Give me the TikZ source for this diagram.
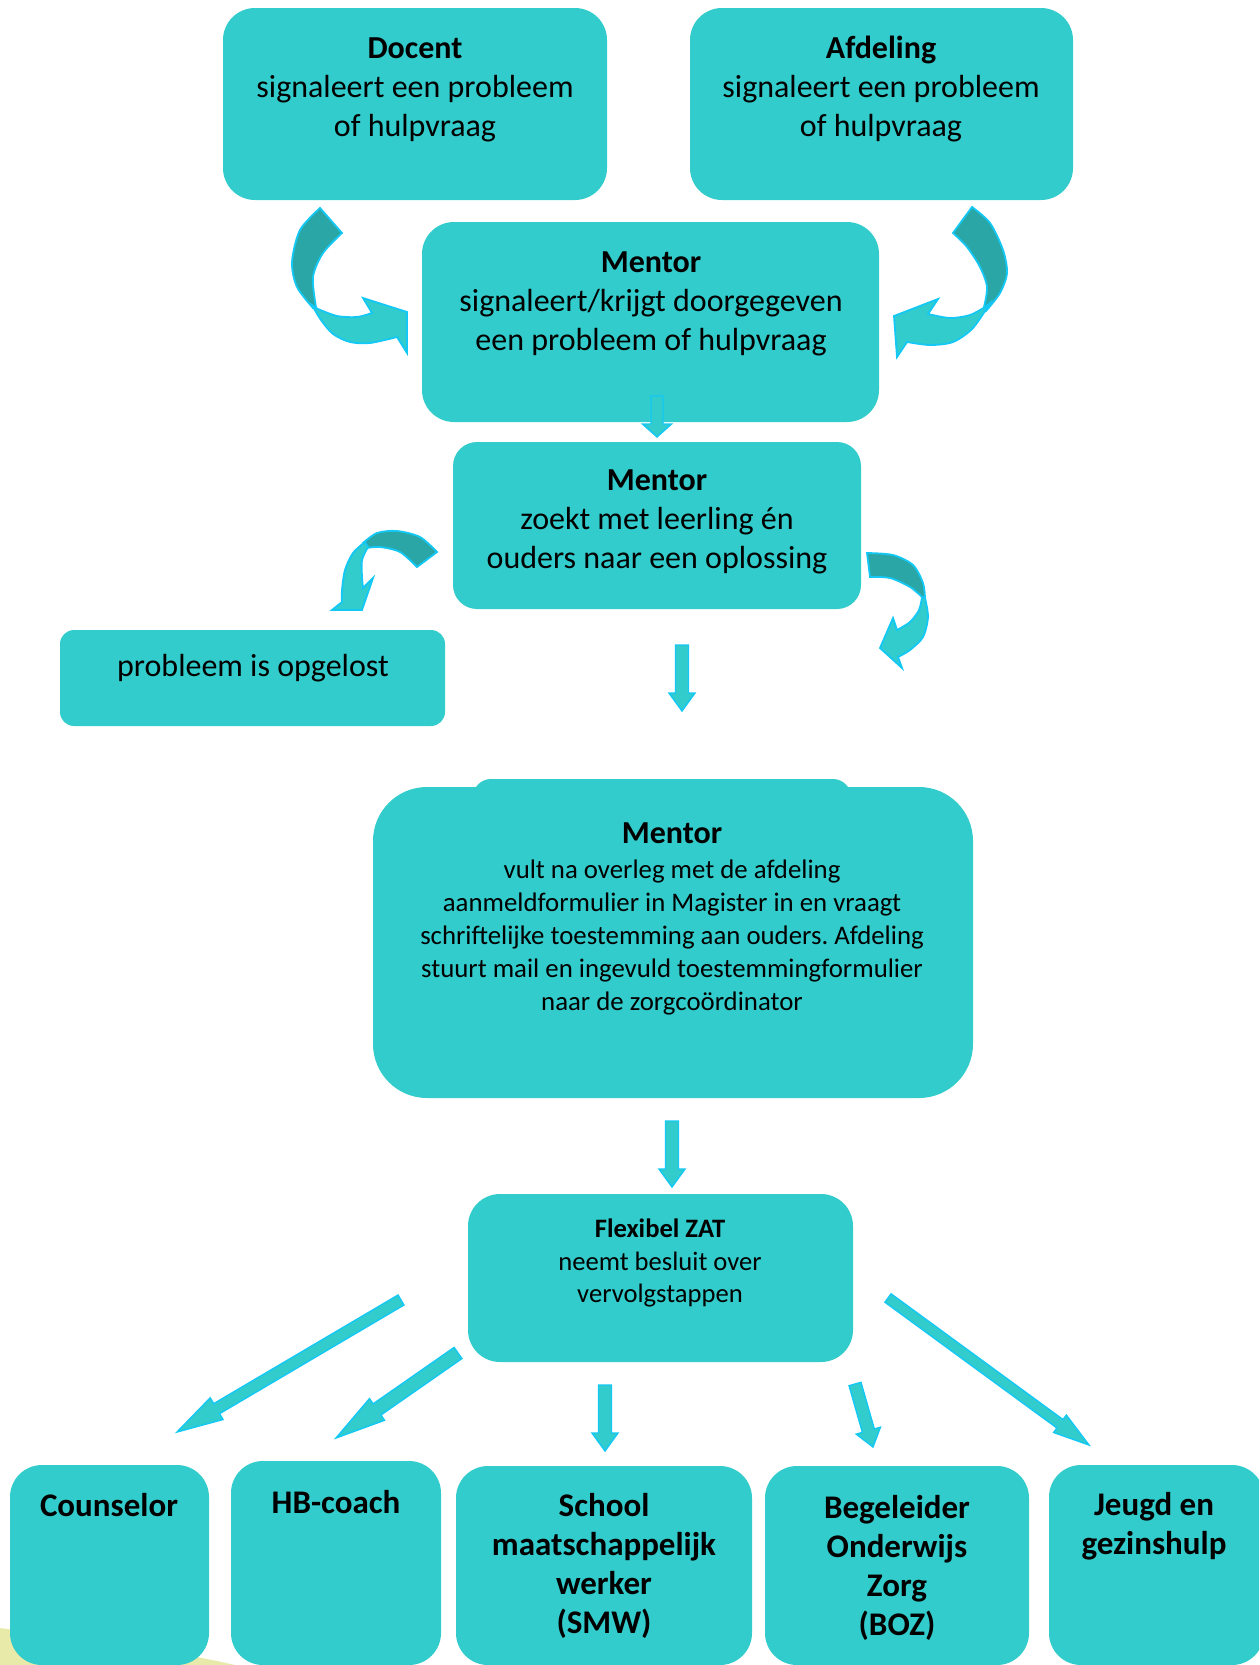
\documentclass[tikz,border=0pt]{standalone}
\usepackage{fontspec}
\setmainfont{Carlito}
\usetikzlibrary{calc,fit}
\frenchspacing
\definecolor{boxfill}{RGB}{51,204,204}
\definecolor{bendshade}{RGB}{43,166,166}
\definecolor{arrowedge}{RGB}{20,200,245}
\definecolor{blob}{RGB}{232,234,170}
\tikzset{
	box/.style = {fill=boxfill, inner sep=0pt, rounded corners=16pt},% blok
	boxtext/.style = {align=center, inner sep=0pt,
		font=\fontsize{16}{19.5}\selectfont},
	smalltext/.style = {align=center, inner sep=0pt,
		font=\fontsize{13.4}{16.5}\selectfont},
	zattext/.style = {align=center, inner sep=0pt,
		font=\fontsize{13.3}{16.2}\selectfont},
	foottext/.style = {align=center, inner sep=0pt,
		font=\bfseries\fontsize{16.5}{19.5}\selectfont},
	blockarrow/.style = {fill=boxfill, draw=arrowedge, line width=0.7pt},% rechte pijl
	bendfront/.style = {fill=boxfill, draw=arrowedge, line width=0.9pt},% gebogen pijl, voorkant
	bendback/.style = {fill=bendshade, draw=arrowedge, line width=0.9pt}% gebogen pijl, achterkant
}
% pijl van #1 naar #2: halve schachtbreedte #3, halve kopbreedte #4, koplengte #5
\newcommand{\flowarrow}[5]{%
	\coordinate (kopvoet) at ($(#2)!#5!(#1)$);
	\filldraw[blockarrow] ($(#1)!#3!90:(#2)$) -- ($(kopvoet)!#3!90:(#2)$)
		-- ($(kopvoet)!#4!90:(#2)$) -- (#2) -- ($(kopvoet)!#4!-90:(#2)$)
		-- ($(kopvoet)!#3!-90:(#2)$) -- ($(#1)!#3!-90:(#2)$) -- cycle;}

\begin{document}
\begin{tikzpicture}[x=0.5pt,y=-0.5pt]
	\useasboundingbox (0,0) rectangle (1259,1665);
	\clip (0,0) rectangle (1259,1665);
	\fill[blob] (0,1628) .. controls (90,1640) and (180,1652) .. (235,1665) -- (0,1665) -- cycle;

	% blokken
	\node[box, fit={(223,8) (607,200)}] (docent) {};
	\node[box, fit={(690,8) (1073,200)}] (afdeling) {};
	\node[box, fit={(422,222) (879,422)}] (mentor1) {};
	\node[box, rounded corners=12pt, fit={(453,442) (861,609)}] (mentor2) {};
	\node[box, rounded corners=7pt, fit={(60,630) (445,726)}] (opgelost) {};
	\node[box, rounded corners=9pt, fit={(473,779) (851,830)}] (mentortab) {};
	\node[box, rounded corners=27pt, fit={(373,787) (973,1098)}] (mentor3) {};
	\node[box, fit={(468,1194) (853,1362)}] (zat) {};
	\node[box, fit={(10,1465) (209,1665)}] (counselor) {};
	\node[box, fit={(231,1461) (441,1665)}] (hbcoach) {};
	\node[box, fit={(456,1466) (752,1665)}] (smw) {};
	\node[box, fit={(765,1466) (1029,1665)}] (boz) {};
	\node[box, fit={(1049,1465) (1264,1665)}] (jeugd) {};

	% teksten
	\node[boxtext] (docenttekst) at (415,90) {\textbf{Docent}\\ signaleert een probleem\\ of hulpvraag};
	\node[boxtext] (afdelingtekst) at (881,89) {\textbf{Afdeling}\\ signaleert een probleem\\ of hulpvraag};
	\node[boxtext] (mentor1tekst) at (651,304) {\textbf{Mentor}\\ signaleert/krijgt doorgegeven\\ een probleem of hulpvraag};
	\node[boxtext] (mentor2tekst) at (657,522) {\textbf{Mentor}\\ zoekt met leerling én\\ ouders naar een oplossing};
	\node[boxtext] (opgelosttekst) at (253,668) {probleem is opgelost};
	\node[smalltext] (mentor3tekst) at (672,919) {{\bfseries\fontsize{16}{19.5}\selectfont Mentor}\\[1pt]
		vult na overleg met de afdeling\\ aanmeldformulier in Magister in en vraagt\\
		schriftelijke toestemming aan ouders. Afdeling\\ stuurt mail en ingevuld toestemmingformulier\\
		naar de zorgcoördinator};
	\node[zattext] (zattekst) at (660,1263) {\textbf{Flexibel ZAT}\\ neemt besluit over\\ vervolgstappen};
	\node[foottext] (counselortekst) at (109,1505) {Counselor};
	\node[foottext] (hbcoachtekst) at (336,1502) {HB-coach};
	\node[foottext] (smwtekst) at (604,1566) {School\\ maatschappelijk\\ werker\\ (SMW)};
	\node[foottext] (boztekst) at (897,1568) {Begeleider\\ Onderwijs\\ Zorg\\ (BOZ)};
	\node[foottext] (jeugdtekst) at (1154,1526) {Jeugd en\\ gezinshulp};

	% rechte pijlen
	\coordinate (m1uit) at (657,396);   \coordinate (m2in) at (657,437);
	\coordinate (m2uit) at (682,645);   \coordinate (m3in) at (682,711);
	\coordinate (m3uit) at (672,1121);  \coordinate (zatin) at (672,1187);
	\coordinate (zatA) at (401,1300);   \coordinate (counselorin) at (177,1432);
	\coordinate (zatB) at (458,1353);   \coordinate (hbcoachin) at (336,1438);
	\coordinate (zatC) at (605,1385);   \coordinate (smwin) at (605,1451);
	\coordinate (zatD) at (855,1384);   \coordinate (bozin) at (873,1447);
	\coordinate (zatE) at (888,1298);   \coordinate (jeugdin) at (1089,1445);
	\flowarrow{m1uit}{m2in}{3pt}{7.25pt}{6.5pt}
	\flowarrow{m2uit}{m3in}{3.25pt}{6.5pt}{9pt}
	\flowarrow{m3uit}{zatin}{3.25pt}{6.5pt}{9pt}
	\flowarrow{zatA}{counselorin}{2.9pt}{6.3pt}{23pt}
	\flowarrow{zatB}{hbcoachin}{3.4pt}{6.6pt}{25pt}
	\flowarrow{zatC}{smwin}{3.25pt}{6.5pt}{9pt}
	\flowarrow{zatD}{bozin}{3.1pt}{6.3pt}{8.5pt}
	\flowarrow{zatE}{jeugdin}{2.6pt}{5.4pt}{18pt}

	% gebogen pijlen
	% docent -> mentor
	\filldraw[bendback] plot[smooth] coordinates {(320,208) (300,230) (292,262) (297,287) (313,308)}
		-- plot[smooth] coordinates {(316,307) (313,277) (323,253) (342,233)} -- cycle;
	\filldraw[bendfront] plot[smooth] coordinates {(312,305) (321,320) (333,334) (350,342) (370,343) (397,337)}
		-- (407,353) -- (407,312) -- (363,298)
		-- plot[smooth] coordinates {(372,313) (357,317) (337,316) (318,309)} -- cycle;
	% afdeling -> mentor
	\filldraw[bendback] plot[smooth] coordinates {(972,207) (990,223) (1003,250) (1007,273) (1000,293) (986,311)}
		-- plot[smooth] coordinates {(984,307) (987,287) (980,267) (967,247) (953,233)} -- cycle;
	\filldraw[bendfront] plot[smooth] coordinates {(990,303) (973,328) (953,342) (930,345) (907,342)}
		-- (897,357) -- (894,316) -- (938,299)
		-- plot[smooth] coordinates {(928,314) (950,318) (970,315) (985,307)} -- cycle;
	% mentor -> opgelost
	\filldraw[bendback] plot[smooth] coordinates {(437,552) (420,537) (397,531) (377,533) (363,543)}
		-- plot[smooth] coordinates {(367,548) (380,547) (400,552) (417,567)} -- cycle;
	\filldraw[bendfront] plot[smooth] coordinates {(365,542) (353,553) (345,570) (342,590) (342,602)}
		-- (332,610) -- (362,610) -- (373,578)
		-- plot[smooth] coordinates {(363,588) (362,577) (362,560) (368,547)} -- cycle;
	% mentor -> verder
	\filldraw[bendback] plot[smooth] coordinates {(867,553) (893,555) (913,565) (923,583) (925,598)}
		-- plot[smooth] coordinates {(922,597) (910,587) (890,578) (870,577)} -- cycle;
	\filldraw[bendfront] plot[smooth] coordinates {(925,598) (928,617) (923,637) (910,650) (898,657)}
		-- (902,668) -- (880,648) -- (893,618)
		-- plot[smooth] coordinates {(897,630) (910,622) (919,610) (922,597)} -- cycle;
\end{tikzpicture}
\end{document}
